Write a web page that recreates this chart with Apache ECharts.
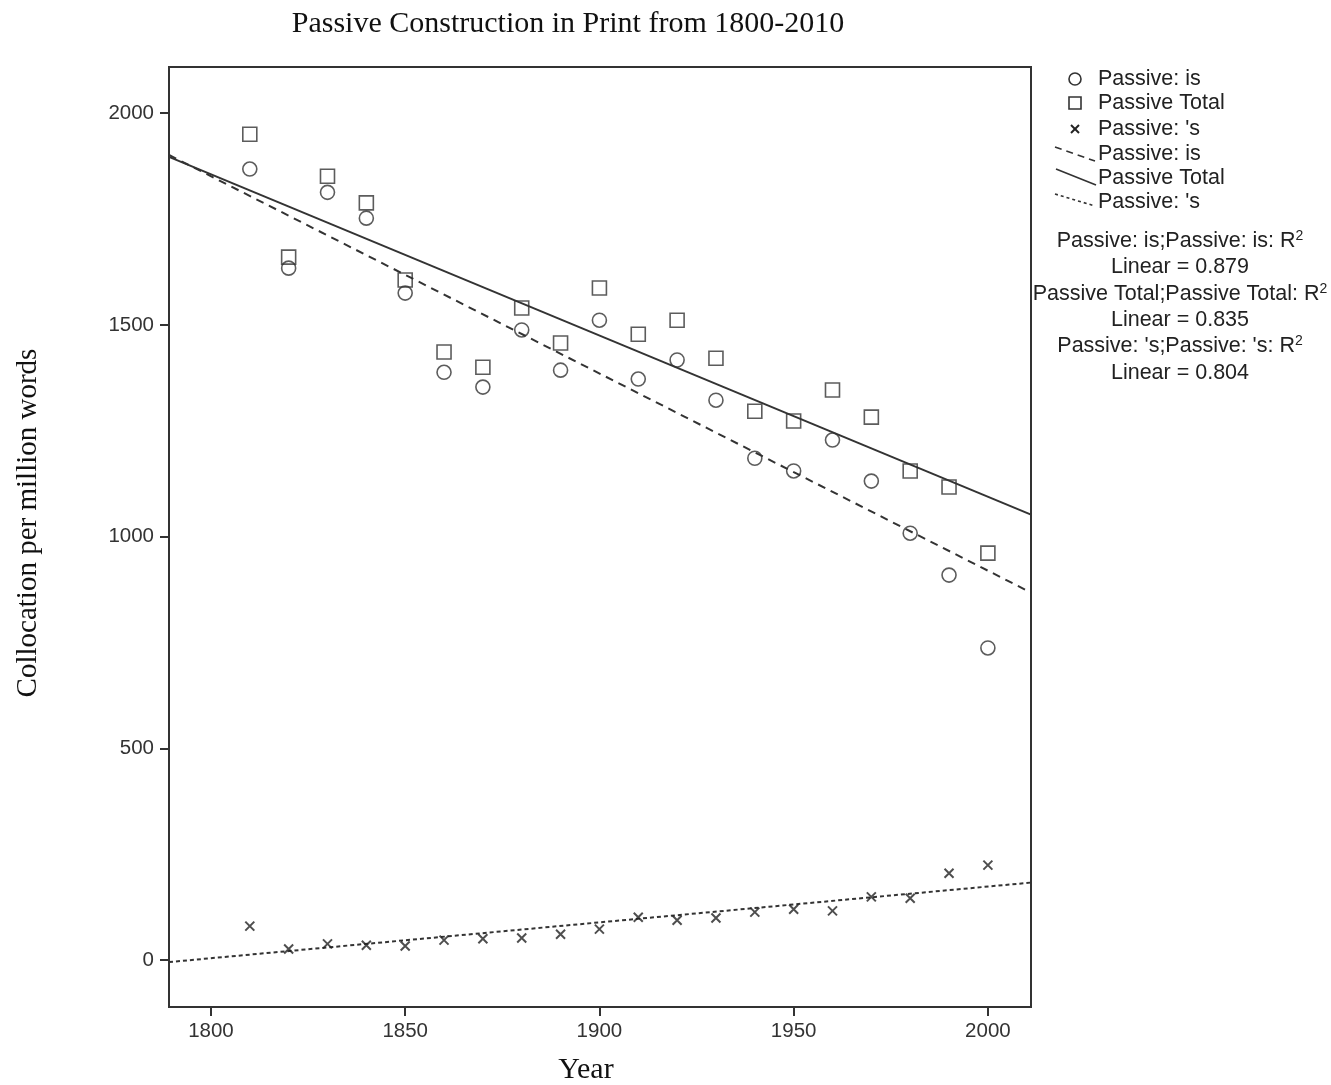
<!DOCTYPE html>
<html><head><meta charset="utf-8">
<script src="https://cdn.jsdelivr.net/npm/echarts@6/dist/echarts.min.js"></script>
<style>html,body{margin:0;padding:0;background:#fff}#c{width:1331px;height:1085px}</style>
</head><body><div id="c"></div>
<script>
const years = [1810,1820,1830,1840,1850,1860,1870,1880,1890,1900,1910,1920,1930,1940,1950,1960,1970,1980,1990,2000];
const passiveIs = [1868,1634,1813,1752,1575,1388,1353,1488,1393,1511,1372,1417,1322,1185,1155,1228,1131,1008,909,737];
const passiveTotal = [1950,1660,1851,1788,1606,1436,1400,1540,1457,1587,1478,1511,1421,1296,1273,1346,1282,1155,1117,961];
const passiveS = [80,26,38,35,33,47,50,52,61,73,101,94,99,113,120,116,149,146,205,224];
const xTicks = [1800,1850,1900,1950,2000];
const yTicks = [0,500,1000,1500,2000];
const r2Labels = [['Passive: is;Passive: is: R','Linear = 0.879'],['Passive Total;Passive Total: R','Linear = 0.835'],["Passive: 's;Passive: 's: R",'Linear = 0.804']];
const legendNames = ['Passive: is','Passive Total',"Passive: 's"];

const XMIN = 1789.2, XMAX = 2011.1, YMIN = -111, YMAX = 2109;

function fit(xs, ys){
  const n = xs.length;
  const mx = xs.reduce((a,b)=>a+b,0)/n, my = ys.reduce((a,b)=>a+b,0)/n;
  let sxy=0,sxx=0;
  for(let i=0;i<n;i++){sxy+=(xs[i]-mx)*(ys[i]-my);sxx+=(xs[i]-mx)**2;}
  const b=sxy/sxx, a=my-b*mx;
  return [[XMIN,a+b*XMIN],[XMAX,a+b*XMAX]];
}
const pairs = arr => years.map((y,i)=>[y,arr[i]]);
const ink = '#333';
const serif = '"Liberation Serif","DejaVu Serif",serif';
const sans = '"Liberation Sans",Arial,sans-serif';
const crossPath = 'path://M0,0L10,10M10,0L0,10';

const chart = echarts.init(document.getElementById('c'));

const lx = 1075, ltx = 1098, rowY = [79,103,129,154,178,202];
const graphics = [];
const st = {fill:'none',stroke:ink,lineWidth:1.6};
graphics.push({type:'circle',shape:{cx:lx,cy:rowY[0],r:6},style:st});
graphics.push({type:'rect',shape:{x:lx-6,y:rowY[1]-6,width:12,height:12},style:st});
graphics.push({type:'line',shape:{x1:lx-4,y1:rowY[2]-4,x2:lx+4,y2:rowY[2]+4},style:{stroke:'#222',lineWidth:2}});
graphics.push({type:'line',shape:{x1:lx+4,y1:rowY[2]-4,x2:lx-4,y2:rowY[2]+4},style:{stroke:'#222',lineWidth:2}});
const iconLines = [
  {x1:1055,y1:147,x2:1095,y2:161,dash:[7,5]},
  {x1:1056,y1:169,x2:1096,y2:185,dash:null},
  {x1:1055,y1:194,x2:1095,y2:206,dash:[3,3]}
];
iconLines.forEach(l=>{
  const s = {stroke:ink,lineWidth:1.6};
  if(l.dash) s.lineDash = l.dash;
  graphics.push({type:'line',shape:{x1:l.x1,y1:l.y1,x2:l.x2,y2:l.y2},style:s});
});
for(let k=0;k<6;k++){
  graphics.push({type:'text',x:ltx,y:rowY[k],style:{text:legendNames[k%3],font:'21.5px '+sans,fill:'#222',textVerticalAlign:'middle'}});
}
const r2Y=[241,267,294,320,346,373];
for(let k=0;k<3;k++){
  graphics.push({type:'text',x:1180,y:r2Y[2*k],style:{rich:{sup:{fontSize:14,verticalAlign:'top',padding:[0,0,10,0],fontFamily:sans,fill:'#222'}},text:r2Labels[k][0]+'{sup|2}',font:'21.5px '+sans,fill:'#222',textAlign:'center',textVerticalAlign:'middle'}});
  graphics.push({type:'text',x:1180,y:r2Y[2*k+1],style:{text:r2Labels[k][1],font:'21.5px '+sans,fill:'#222',textAlign:'center',textVerticalAlign:'middle'}});
}
graphics.push({type:'text',x:586,y:1070,style:{text:'Year',font:'30px '+serif,fill:'#111',textAlign:'center',textVerticalAlign:'middle'}});
graphics.push({type:'text',x:28,y:523,rotation:Math.PI/2,style:{text:'Collocation per million words',font:'29px '+serif,fill:'#111',textAlign:'center',textVerticalAlign:'middle'}});

chart.setOption({
  animation:false,
  backgroundColor:'#fff',
  title:{text:'Passive Construction in Print from 1800-2010',left:563,top:4,textAlign:'center',
    textStyle:{fontFamily:serif,fontSize:30,fontWeight:'normal',color:'#111'}},
  grid:{left:169,right:300,top:67,bottom:78,show:true,borderColor:ink,borderWidth:2,backgroundColor:'transparent'},
  xAxis:{type:'value',min:XMIN,max:XMAX,
    splitLine:{show:false},axisLine:{show:true,onZero:false,lineStyle:{color:ink,width:2}},
    axisTick:{show:true,length:9,lineStyle:{color:ink,width:2},customValues:xTicks},
    axisLabel:{customValues:xTicks,formatter:v=>String(v),fontFamily:sans,fontSize:20.5,color:'#333',margin:14}},
  yAxis:{type:'value',min:YMIN,max:YMAX,
    splitLine:{show:false},axisLine:{show:true,onZero:false,lineStyle:{color:ink,width:2}},
    axisTick:{show:true,length:9,lineStyle:{color:ink,width:2},customValues:yTicks},
    axisLabel:{customValues:yTicks,formatter:v=>String(v),fontFamily:sans,fontSize:20.5,color:'#333',margin:15}},
  graphic:graphics,
  series:[
    {type:'line',data:fit(years,passiveIs),symbol:'none',lineStyle:{color:ink,width:2,type:[8,6]},z:1},
    {type:'line',data:fit(years,passiveTotal),symbol:'none',lineStyle:{color:ink,width:2,type:'solid'},z:1},
    {type:'line',data:fit(years,passiveS),symbol:'none',lineStyle:{color:ink,width:2,type:[4,3]},z:1},
    {type:'scatter',name:'Passive: is',data:pairs(passiveIs),symbol:'circle',symbolSize:14,
      itemStyle:{color:'rgba(0,0,0,0)',borderColor:ink,borderWidth:1.6},z:3},
    {type:'scatter',name:'Passive Total',data:pairs(passiveTotal),symbol:'rect',symbolSize:14,
      itemStyle:{color:'rgba(0,0,0,0)',borderColor:ink,borderWidth:1.6},z:3},
    {type:'scatter',name:"Passive: 's",data:pairs(passiveS),symbol:crossPath,symbolSize:9,
      itemStyle:{color:'rgba(0,0,0,0)',borderColor:'#222',borderWidth:2},z:3}
  ]
});
</script></body></html>
